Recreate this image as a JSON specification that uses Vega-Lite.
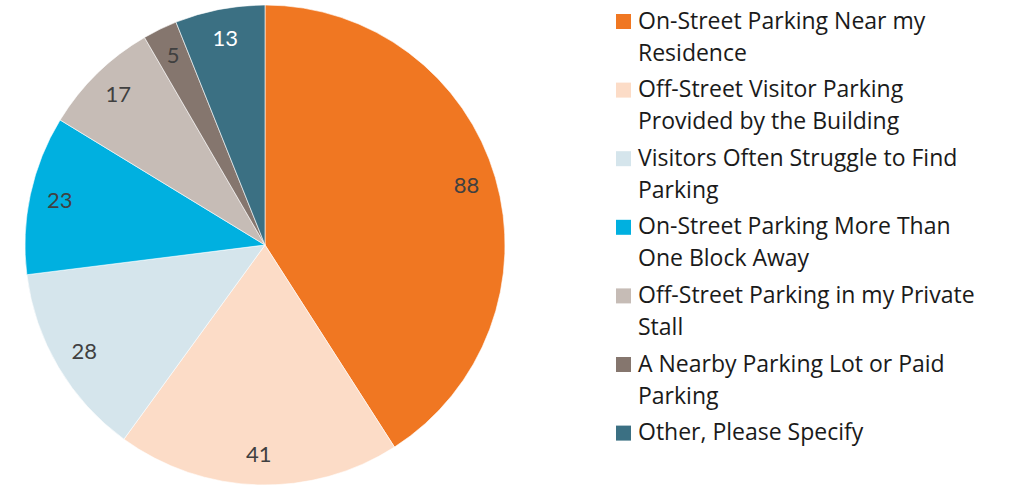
{
  "$schema": "https://vega.github.io/schema/vega-lite/v6.json",
  "width": 530,
  "height": 490,
  "padding": 0,
  "background": "white",
  "config": {"view": {"stroke": null}, "font": "Lato", "style": {"guide-label": {"lineHeight": 32}}},
  "data": {"values": [
    {"k": 1, "cat": "On-Street Parking Near my Residence", "v": 88, "lc": "#404040"},
    {"k": 2, "cat": "Off-Street Visitor Parking Provided by the Building", "v": 41, "lc": "#404040"},
    {"k": 3, "cat": "Visitors Often Struggle to Find Parking", "v": 28, "lc": "#404040"},
    {"k": 4, "cat": "On-Street Parking More Than One Block Away", "v": 23, "lc": "#404040"},
    {"k": 5, "cat": "Off-Street Parking in my Private Stall", "v": 17, "lc": "#404040"},
    {"k": 6, "cat": "A Nearby Parking Lot or Paid Parking", "v": 5, "lc": "#404040"},
    {"k": 7, "cat": "Other, Please Specify", "v": 13, "lc": "#ffffff"}
  ]},
  "encoding": {
    "theta": {"field": "v", "type": "quantitative", "stack": true},
    "order": {"field": "k", "type": "quantitative"}
  },
  "layer": [
    {
      "mark": {"type": "arc", "outerRadius": 240, "stroke": "white", "strokeWidth": 0.6},
      "encoding": {
        "color": {
          "field": "cat", "type": "nominal",
          "sort": {"field": "k"},
          "scale": {
            "domain": ["On-Street Parking Near my Residence", "Off-Street Visitor Parking Provided by the Building", "Visitors Often Struggle to Find Parking", "On-Street Parking More Than One Block Away", "Off-Street Parking in my Private Stall", "A Nearby Parking Lot or Paid Parking", "Other, Please Specify"],
            "range": ["#F07722", "#FCDCC7", "#D5E5EC", "#00B0E0", "#C6BCB6", "#85766E", "#3B7083"]
          },
          "legend": {
            "title": null,
            "orient": "right",
            "offset": 72,
            "padding": 10,
            "symbolType": "square",
            "symbolSize": 225,
            "symbolStrokeWidth": 0,
            "labelFont": "Open Sans",
            "labelFontSize": 23,
            "labelColor": "#1a1a1a",
            "labelLimit": 400,
            "labelOffset": 3,
            "rowPadding": 12.6,
            "labelExpr": "split(datum.label === 'On-Street Parking Near my Residence' ? 'On-Street Parking Near my|Residence' : datum.label === 'Off-Street Visitor Parking Provided by the Building' ? 'Off-Street Visitor Parking|Provided by the Building' : datum.label === 'Visitors Often Struggle to Find Parking' ? 'Visitors Often Struggle to Find|Parking' : datum.label === 'On-Street Parking More Than One Block Away' ? 'On-Street Parking More Than|One Block Away' : datum.label === 'Off-Street Parking in my Private Stall' ? 'Off-Street Parking in my Private|Stall' : datum.label === 'A Nearby Parking Lot or Paid Parking' ? 'A Nearby Parking Lot or Paid|Parking' : datum.label, '|')"
          }
        }
      }
    },
    {
      "mark": {"type": "text", "radius": 210, "fontSize": 22, "align": "center", "baseline": "middle"},
      "encoding": {
        "text": {"field": "v", "type": "quantitative"},
        "color": {"field": "lc", "type": "nominal", "scale": null}
      }
    }
  ]
}
